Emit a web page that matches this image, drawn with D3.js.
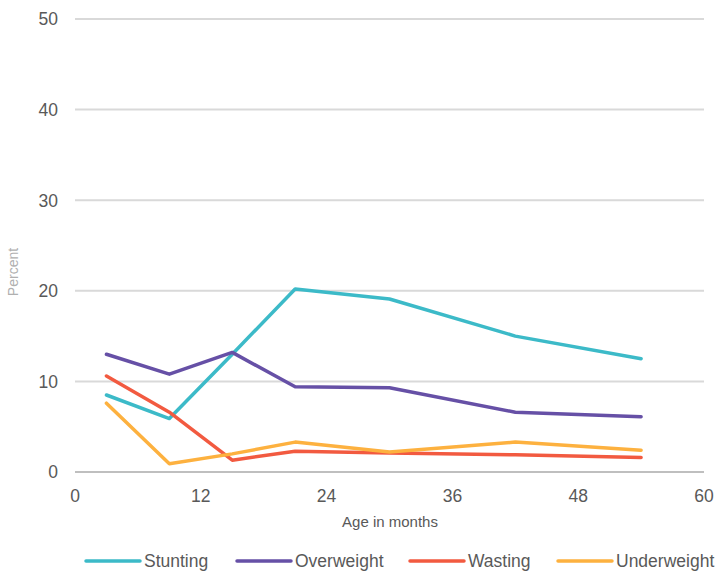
<!DOCTYPE html>
<html><head><meta charset="utf-8">
<script src="https://cdn.jsdelivr.net/npm/d3@7"></script>
<style>body{margin:0;background:#fff}svg{display:block}</style>
</head><body>
<svg id="c" width="716" height="572"></svg>
<script>
const ages = [3, 9, 15, 21, 30, 42, 54];
const stunting = [8.5, 5.9, 13.0, 20.2, 19.1, 15.0, 12.5];
const overweight = [13.0, 10.8, 13.2, 9.4, 9.3, 6.6, 6.1];
const wasting = [10.6, 6.6, 1.3, 2.3, 2.1, 1.9, 1.6];
const underweight = [7.6, 0.9, 2.0, 3.3, 2.2, 3.3, 2.4];
const seriesNames = ["Stunting", "Overweight", "Wasting", "Underweight"];
const xTicks = [0, 12, 24, 36, 48, 60];
const yTicks = [0, 10, 20, 30, 40, 50];

const colors = ["#3CBAC8", "#6650A6", "#F25A40", "#FDB13F"];
const data = [stunting, overweight, wasting, underweight];
const font = "'Liberation Sans', Arial, sans-serif";

const svg = d3.select("#c");
const x = d3.scaleLinear().domain([0, 60]).range([75, 704]);
const y = d3.scaleLinear().domain([0, 50]).range([472, 19]);

// gridlines
svg.append("g").selectAll("line").data(yTicks).join("line")
  .attr("x1", x(0)).attr("x2", x(60))
  .attr("y1", d => y(d)).attr("y2", d => y(d))
  .attr("stroke", d => d === 0 ? "#bfbfbf" : "#d9d9d9")
  .attr("stroke-width", 2);

// y tick labels
svg.append("g").selectAll("text").data(yTicks).join("text")
  .attr("x", 58).attr("y", d => y(d)).attr("dy", "0.36em")
  .attr("text-anchor", "end")
  .attr("font-family", font).attr("font-size", 17.5).attr("fill", "#595959")
  .text(d => d);

// x tick labels
svg.append("g").selectAll("text").data(xTicks).join("text")
  .attr("x", d => x(d)).attr("y", 502)
  .attr("text-anchor", "middle")
  .attr("font-family", font).attr("font-size", 17.5).attr("fill", "#595959")
  .text(d => d);

// axis titles
svg.append("text").attr("x", 390).attr("y", 527).attr("text-anchor", "middle")
  .attr("font-family", font).attr("font-size", 15).attr("fill", "#595959")
  .text("Age in months");
svg.append("text").attr("transform", "translate(18,272) rotate(-90)")
  .attr("text-anchor", "middle")
  .attr("font-family", font).attr("font-size", 14).attr("fill", "#b0b0b0")
  .text("Percent");

// lines
const line = d3.line().x((d, i) => x(ages[i])).y(d => y(d));
svg.append("g").selectAll("path").data(data).join("path")
  .attr("d", d => line(d))
  .attr("fill", "none")
  .attr("stroke", (d, i) => colors[i])
  .attr("stroke-width", 3.5)
  .attr("stroke-linejoin", "round")
  .attr("stroke-linecap", "round");

// legend
const legX = [86, 237, 410, 558];
const lg = svg.append("g").selectAll("g").data(seriesNames).join("g")
  .attr("transform", (d, i) => `translate(${legX[i]},561)`);
lg.append("line").attr("x1", 0).attr("x2", 54).attr("y1", 0).attr("y2", 0)
  .attr("stroke", (d, i) => colors[i]).attr("stroke-width", 3.5)
  .attr("stroke-linecap", "round");
lg.append("text").attr("x", 58).attr("dy", "0.36em")
  .attr("font-family", font).attr("font-size", 17.5).attr("fill", "#595959")
  .text(d => d);
</script>
</body></html>
